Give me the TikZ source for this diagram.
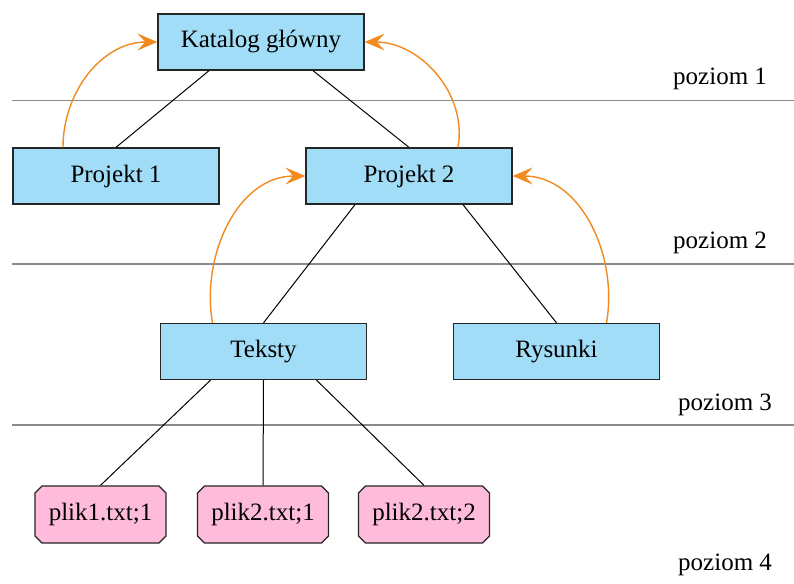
\documentclass[tikz,border=0pt]{standalone}
\usepackage{fontspec}
\setmainfont{Liberation Serif}
\usetikzlibrary{shapes.misc,arrows.meta}
\definecolor{dirblue}{HTML}{A2DDF7}
\definecolor{filepink}{HTML}{FFBBDA}
\definecolor{linkorange}{HTML}{F28A1E}
\definecolor{levelgray}{HTML}{8A8A8A}
\tikzset{
  dirbox/.style={rectangle, draw=black!85, line width=1.3pt, fill=dirblue,
    minimum width=206pt, minimum height=56pt, inner sep=0pt,
    font=\fontsize{25}{30}\selectfont},
  filebox/.style={chamfered rectangle, chamfered rectangle xsep=3.5pt,
    chamfered rectangle ysep=3.5pt, draw=black!85, line width=1.3pt, fill=filepink,
    minimum width=131pt, minimum height=57pt, inner sep=0pt,
    font=\fontsize{25}{30}\selectfont},
  tree/.style={draw=black, line width=1pt},
  uplink/.style={draw=linkorange, line width=1.4pt,
    -{Stealth[length=20pt,width=17pt,inset=8pt]}},
  levelline/.style={draw=levelgray, line width=1.4pt},
  levellabel/.style={anchor=base west, inner sep=0pt,
    font=\fontsize{25}{30}\selectfont}
}
\begin{document}
\begin{tikzpicture}[x=1pt,y=-1pt]
\useasboundingbox[fill=white] (0,0) rectangle (794,583);

% level separators
\coordinate (l1a) at (12,100.5);  \coordinate (l1b) at (794,100.5);
\coordinate (l2a) at (12,264);    \coordinate (l2b) at (794,264);
\coordinate (l3a) at (12,425);    \coordinate (l3b) at (794,425);
\draw[levelline] (l1a) -- (l1b);
\draw[levelline] (l2a) -- (l2b);
\draw[levelline] (l3a) -- (l3b);

\node[levellabel] (lv1) at (673,85)  {poziom 1};
\node[levellabel] (lv2) at (673,248) {poziom 2};
\node[levellabel] (lv3) at (678,410) {poziom 3};
\node[levellabel] (lv4) at (678,570) {poziom 4};

% directories
\node[dirbox] (kat) at (261,42)      {Katalog główny};
\node[dirbox] (p1)  at (116,176)     {Projekt 1};
\node[dirbox] (p2)  at (409,176)     {Projekt 2};
\node[dirbox] (tek) at (263.5,351.5) {Teksty};
\node[dirbox] (rys) at (556.5,351.5) {Rysunki};

% files
\node[filebox] (f1) at (100.5,514.5) {plik1.txt;1};
\node[filebox] (f2) at (263,514.5)   {plik2.txt;1};
\node[filebox] (f3) at (424,514.5)   {plik2.txt;2};

% tree edges
\draw[tree] ([xshift=-52pt]kat.south) -- (p1.north);
\draw[tree] ([xshift=52pt]kat.south)  -- (p2.north);
\draw[tree] ([xshift=-54pt]p2.south)  -- (tek.north);
\draw[tree] ([xshift=54pt]p2.south)   -- (rys.north);
\draw[tree] ([xshift=-53pt]tek.south) -- (f1.north);
\draw[tree] (tek.south)               -- (f2.north);
\draw[tree] ([xshift=53pt]tek.south)  -- (f3.north);

% parent links
\draw[uplink] ([xshift=-53pt]p1.north)  to[out=90,in=180] (kat.west);
\draw[uplink] ([xshift=49pt]p2.north)   to[out=80,in=0]   (kat.east);
\draw[uplink] ([xshift=-51pt]tek.north) to[out=100,in=180] (p2.west);
\draw[uplink] ([xshift=50pt]rys.north)  to[out=80,in=0]   (p2.east);
\end{tikzpicture}
\end{document}
